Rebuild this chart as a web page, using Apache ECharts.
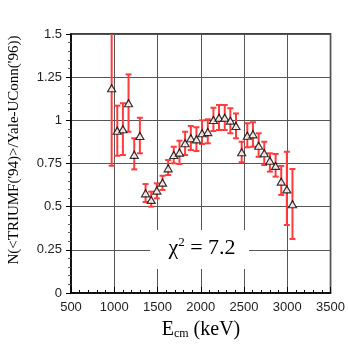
<!DOCTYPE html>
<html>
<head>
<meta charset="utf-8">
<script src="https://cdn.jsdelivr.net/npm/echarts@6/dist/echarts.min.js"></script>
<style>
  html, body { margin: 0; padding: 0; background: #fff; }
  #main { width: 348px; height: 346px; }
</style>
</head>
<body>
<div id="main"></div>
<script>
// Ecm (keV) of each point
const energy = [970, 1035, 1100, 1165, 1231, 1296, 1362, 1427, 1492, 1558, 1623, 1688, 1754, 1819, 1885, 1950, 2015,
  2081, 2146, 2211, 2277, 2342, 2407, 2473, 2538, 2603, 2669, 2734, 2799, 2865, 2930, 2995, 3060];
// normalisation ratio
const ratio = [1.186, 0.94, 0.948, 1.099, 0.80, 0.909, 0.577, 0.539, 0.593, 0.639, 0.722, 0.799, 0.813, 0.867, 0.896,
  0.89, 0.925, 0.932, 1.002, 1.015, 1.015, 0.998, 0.967, 0.815, 0.911, 0.919, 0.853, 0.809, 0.766, 0.736, 0.645, 0.60, 0.514];
// error bar ends
const errTop = [1.64, 1.085, 1.099, 1.266, 0.896, 1.015, 0.631, 0.587, 0.635, 0.679, 0.77, 0.847, 0.882, 0.934, 0.967,
  0.96, 1.0, 1.006, 1.073, 1.089, 1.089, 1.07, 1.04, 0.876, 0.983, 0.989, 0.925, 0.876, 0.809, 0.805, 0.736, 0.818, 0.718];
const errBottom = [0.737, 0.795, 0.799, 0.934, 0.716, 0.809, 0.527, 0.50, 0.548, 0.597, 0.683, 0.751, 0.747, 0.799, 0.828,
  0.822, 0.863, 0.867, 0.938, 0.944, 0.944, 0.925, 0.896, 0.757, 0.844, 0.847, 0.789, 0.741, 0.703, 0.674, 0.568, 0.394, 0.313];
const yTickLabels = { 0: "0", 0.25: "0.25", 0.5: "0.5", 0.75: "0.75", 1: "1", 1.25: "1.25", 1.5: "1.5" };
const chiText = "7.2";

const serif = "'Liberation Serif', 'DejaVu Serif', serif";
const sans = "'Liberation Sans', Arial, sans-serif";

let myChart = echarts.init(document.getElementById("main"), null, { renderer: "canvas" });

let option = {
  animation: false,
  backgroundColor: "#fff",
  grid: {
    left: 71, right: 17, top: 34, bottom: 53,
    show: true, borderColor: "#000", borderWidth: 1.5, backgroundColor: "transparent",
  },
  xAxis: {
    type: "value",
    min: 500, max: 3500, interval: 500,
    axisLine: { lineStyle: { color: "#000", width: 1.5 } },
    axisTick: { inside: true, length: 6, lineStyle: { color: "#000" } },
    minorTick: { show: true, splitNumber: 5, length: 3, lineStyle: { color: "#000" } },
    axisLabel: { color: "#222", fontSize: 13, fontFamily: sans, margin: 8, formatter: (v) => String(v) },
    splitLine: { show: true, lineStyle: { color: "#555", width: 1 } },
  },
  yAxis: {
    type: "value",
    min: 0, max: 1.5, interval: 0.25,
    axisLine: { show: true, lineStyle: { color: "#000", width: 1.5 } },
    axisTick: { show: true, length: 5, lineStyle: { color: "#000" } },
    minorTick: { show: true, splitNumber: 5, length: 3, lineStyle: { color: "#555" } },
    axisLabel: {
      color: "#222", fontSize: 13, fontFamily: sans, margin: 9,
      formatter: (v) => yTickLabels[v] ?? String(v),
    },
    splitLine: { show: true, lineStyle: { color: "#555", width: 1 } },
  },
  graphic: [
    {
      type: "rect",
      shape: { x: 150, y: 230, width: 99, height: 39 },
      style: { fill: "#fff" },
      z: 5,
    },
    {
      type: "text",
      x: 202, y: 248,
      z: 6,
      style: {
        text: "{c|χ}{s|2}{c| = " + chiText + "}",
        align: "center", verticalAlign: "middle",
        rich: {
          c: { fontFamily: serif, fontSize: 22, fill: "#000" },
          s: { fontFamily: serif, fontSize: 13, fill: "#000", verticalAlign: "top", padding: [0, 0, 10, 0] },
        },
      },
    },
    {
      type: "text",
      x: 14, y: 150,
      rotation: Math.PI / 2,
      style: {
        text: "N(<TRIUMF('94)>/Yale-UConn('96))",
        fontFamily: serif, fontSize: 15, fill: "#000",
        align: "center", verticalAlign: "middle",
      },
    },
    {
      type: "text",
      x: 201, y: 330,
      style: {
        text: "{e|E}{sub|cm}{e| (keV)}",
        align: "center", verticalAlign: "middle",
        rich: {
          e: { fontFamily: serif, fontSize: 20, fill: "#000" },
          sub: { fontFamily: serif, fontSize: 12, fill: "#000", padding: [8, 0, 0, 0] },
        },
      },
    },
  ],
  series: [
    {
      type: "custom",
      clip: true,
      z: 3,
      data: energy.map((e, i) => [e, errBottom[i], errTop[i]]),
      renderItem: (params, api) => {
        let lo = api.coord([api.value(0), api.value(1)]);
        let hi = api.coord([api.value(0), api.value(2)]);
        let w = 3;
        let style = { stroke: "#ff3b3b", lineWidth: 2 };
        return {
          type: "group",
          children: [
            { type: "line", shape: { x1: lo[0], y1: lo[1], x2: hi[0], y2: hi[1] }, style },
            { type: "line", shape: { x1: hi[0] - w, y1: hi[1], x2: hi[0] + w, y2: hi[1] }, style },
            { type: "line", shape: { x1: lo[0] - w, y1: lo[1], x2: lo[0] + w, y2: lo[1] }, style },
          ],
        };
      },
    },
    {
      type: "scatter",
      z: 4,
      symbol: "triangle",
      symbolSize: [8, 7],
      itemStyle: { color: "#fff", borderColor: "#000", borderWidth: 1.2 },
      data: energy.map((e, i) => [e, ratio[i]]),
    },
  ],
};
myChart.setOption(option);
</script>
</body>
</html>
